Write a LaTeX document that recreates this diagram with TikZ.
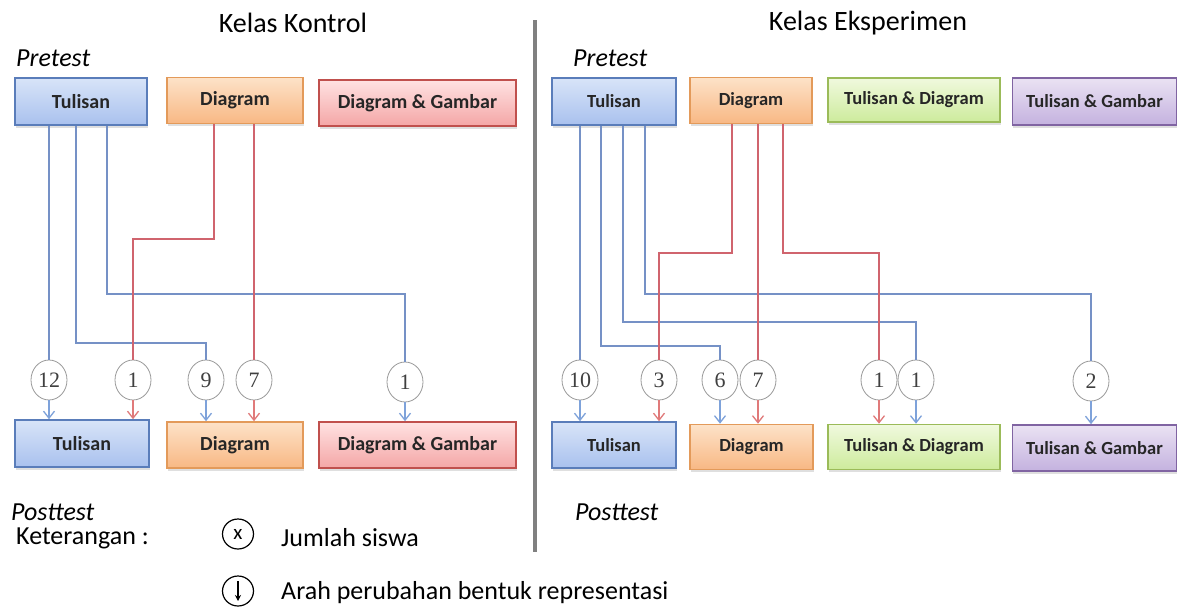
\documentclass[tikz,border=0pt]{standalone}
\usepackage{fontspec}
\setmainfont{Carlito}
\newfontfamily\numfont{Liberation Serif}
\usetikzlibrary{arrows.meta,shapes.geometric,shadows}
\definecolor{tulT}{HTML}{D8E4F8}\definecolor{tulB}{HTML}{A9C1EE}\definecolor{tulD}{HTML}{5A7DBA}
\definecolor{diaT}{HTML}{FDE2C8}\definecolor{diaB}{HTML}{F8B884}\definecolor{diaD}{HTML}{E39A5A}
\definecolor{dgT}{HTML}{FFE2E2}\definecolor{dgB}{HTML}{F4A6A6}\definecolor{dgD}{HTML}{C0504D}
\definecolor{tdT}{HTML}{F0F9DE}\definecolor{tdB}{HTML}{CDEB9C}\definecolor{tdD}{HTML}{9BBB59}
\definecolor{tgT}{HTML}{EAE2F3}\definecolor{tgB}{HTML}{C4B2DF}\definecolor{tgD}{HTML}{8064A2}
\definecolor{lnB}{HTML}{7591C6}\definecolor{lnR}{HTML}{D0646E}
\definecolor{arB}{HTML}{7EA2DA}\definecolor{arR}{HTML}{E07A7A}
\begin{document}
\begin{tikzpicture}[x=1pt,y=-1pt,
  box/.style={draw, line width=1.6pt, inner sep=0pt, text=black!85,
    drop shadow={shadow xshift=0.5pt, shadow yshift=-2.5pt, opacity=0.25}},
  lbox/.style={box, font=\fontsize{20}{23}\selectfont\bfseries},
  rbox/.style={box, font=\fontsize{18.5}{21}\selectfont\bfseries},
  tulbox/.style={top color=tulT, bottom color=tulB, draw=tulD},
  diabox/.style={top color=diaT, bottom color=diaB, draw=diaD},
  dgbox/.style={top color=dgT, bottom color=dgB, draw=dgD},
  tdbox/.style={top color=tdT, bottom color=tdB, draw=tdD},
  tgbox/.style={top color=tgT, bottom color=tgB, draw=tgD},
  cnt/.style={ellipse, draw=black!40, line width=0.8pt, fill=white,
    minimum width=36pt, minimum height=40pt, inner sep=0pt,
    font=\numfont\fontsize{22}{23}\selectfont, text=black!75},
  bl/.style={draw=lnB, line width=1.3pt},
  rd/.style={draw=lnR, line width=1.3pt},
  bla/.style={draw=arB, line width=1.3pt, -{Straight Barb[length=7pt,width=11pt]}},
  rda/.style={draw=arR, line width=1.3pt, -{Straight Barb[length=7pt,width=11pt]}},
  ttl/.style={font=\fontsize{28}{32}\selectfont},
  phase/.style={anchor=west, inner sep=0pt, font=\fontsize{26}{30}\selectfont\itshape},
  leg/.style={anchor=west, inner sep=0pt, font=\fontsize{26}{30}\selectfont}
]
\useasboundingbox[fill=white] (0,0) rectangle (1178,608);

% titles
\node[ttl] (tk) at (293,23) {Kelas Kontrol};
\node[ttl] (te) at (868,23) {Kelas Eksperimen};
\coordinate (dvT) at (535,20);
\coordinate (dvB) at (535,552);
\draw[line width=4pt, black!50] (dvT) -- (dvB);

\node[phase] (pk) at (16,58) {Pretest};
\node[phase] (pe) at (573,58) {Pretest};
\node[phase] (qk) at (11,512) {Posttest};
\node[phase] (qe) at (575,512) {Posttest};

% left boxes
\node[lbox, tulbox, minimum width=132pt, minimum height=47pt] (kT1) at (81,101.5) {Tulisan};
\node[lbox, diabox, minimum width=136pt, minimum height=46pt] (kD1) at (235,100.5) {Diagram};
\node[lbox, dgbox, minimum width=197pt, minimum height=46pt] (kG1) at (417.5,103) {Diagram \& Gambar};
\node[lbox, tulbox, minimum width=134pt, minimum height=47pt] (kT2) at (82,443.5) {Tulisan};
\node[lbox, diabox, minimum width=136pt, minimum height=46pt] (kD2) at (235,445) {Diagram};
\node[lbox, dgbox, minimum width=197pt, minimum height=46pt] (kG2) at (417.5,445) {Diagram \& Gambar};

% right boxes
\node[rbox, tulbox, minimum width=124pt, minimum height=47pt] (eT1) at (614,101.5) {Tulisan};
\node[rbox, diabox, minimum width=122pt, minimum height=46pt] (eD1) at (751,100.5) {Diagram};
\node[rbox, tdbox, minimum width=172pt, minimum height=44pt] (eTD1) at (914,100) {Tulisan \& Diagram};
\node[rbox, tgbox, minimum width=164pt, minimum height=47pt] (eTG1) at (1094.5,101.5) {Tulisan \& Gambar};
\node[rbox, tulbox, minimum width=124pt, minimum height=46pt] (eT2) at (614,445) {Tulisan};
\node[rbox, diabox, minimum width=123pt, minimum height=45pt] (eD2) at (751.5,447) {Diagram};
\node[rbox, tdbox, minimum width=172pt, minimum height=45pt] (eTD2) at (914,447) {Tulisan \& Diagram};
\node[rbox, tgbox, minimum width=164pt, minimum height=46pt] (eTG2) at (1094.5,448) {Tulisan \& Gambar};

% count circles left
\node[cnt] (c12) at (49,380) {12};
\node[cnt] (c1r) at (133,380) {1};
\node[cnt] (c9) at (206,380) {9};
\node[cnt] (c7) at (254,380) {7};
\node[cnt] (c1b) at (405,382) {1};
% count circles right
\node[cnt] (c10) at (580,380) {10};
\node[cnt] (c3) at (659,380) {3};
\node[cnt] (c6) at (720,380) {6};
\node[cnt] (c7e) at (758,380) {7};
\node[cnt] (c1re) at (879,380) {1};
\node[cnt] (c1be) at (916,380) {1};
\node[cnt] (c2) at (1091,381) {2};

% left connectors
\draw[bl] (kT1.south -| c12.north) -- (c12.north);
\draw[bl] ([xshift=-5pt]kT1.south) |- (c9.north |- 0,343) -- (c9.north);
\draw[bl] ([xshift=26pt]kT1.south) |- (c1b.north |- 0,294) -- (c1b.north);
\draw[rd] ([xshift=-21pt]kD1.south) |- (c1r.north |- 0,239) -- (c1r.north);
\draw[rd] (kD1.south -| c7.north) -- (c7.north);

\draw[bla] (c12.south) -- (c12.south |- kT2.north);
\draw[rda] (c1r.south) -- (c1r.south |- kT2.north);
\draw[bla] (c9.south) -- (c9.south |- kD2.north);
\draw[rda] (c7.south) -- (c7.south |- kD2.north);
\draw[bla] (c1b.south) -- (c1b.south |- kG2.north);

% right connectors
\draw[bl] (eT1.south -| c10.north) -- (c10.north);
\draw[bl] ([xshift=-13pt]eT1.south) |- (c6.north |- 0,346) -- (c6.north);
\draw[bl] ([xshift=9pt]eT1.south) |- (c1be.north |- 0,322) -- (c1be.north);
\draw[bl] ([xshift=31pt]eT1.south) |- (c2.north |- 0,294) -- (c2.north);
\draw[rd] ([xshift=-19pt]eD1.south) |- (c3.north |- 0,253) -- (c3.north);
\draw[rd] (eD1.south -| c7e.north) -- (c7e.north);
\draw[rd] ([xshift=32pt]eD1.south) |- (c1re.north |- 0,253) -- (c1re.north);

\draw[bla] (c10.south) -- (c10.south |- eT2.north);
\draw[rda] (c3.south) -- (c3.south |- eT2.north);
\draw[bla] (c6.south) -- (c6.south |- eD2.north);
\draw[rda] (c7e.south) -- (c7e.south |- eD2.north);
\draw[rda] (c1re.south) -- (c1re.south |- eTD2.north);
\draw[bla] (c1be.south) -- (c1be.south |- eTD2.north);
\draw[bla] (c2.south) -- (c2.south |- eTG2.north);

% legend
\node[leg] (ket) at (16,538) {Keterangan :};
\node[ellipse, draw, line width=1.2pt, minimum width=31pt, minimum height=30pt, inner sep=0pt,
  font=\fontsize{21}{22}\selectfont] (lx) at (238,534) {x};
\node[leg] (lj) at (281,538) {Jumlah siswa};
\node[ellipse, draw, line width=1.2pt, minimum width=31pt, minimum height=30pt, inner sep=0pt] (la) at (238,591) {};
\draw[line width=1.3pt, -{Stealth[length=6pt,width=6pt]}] ([yshift=10pt]la.center) -- ([yshift=-10pt]la.center);
\node[leg] (lar) at (281,593) {Arah perubahan bentuk representasi};
\end{tikzpicture}
\end{document}
